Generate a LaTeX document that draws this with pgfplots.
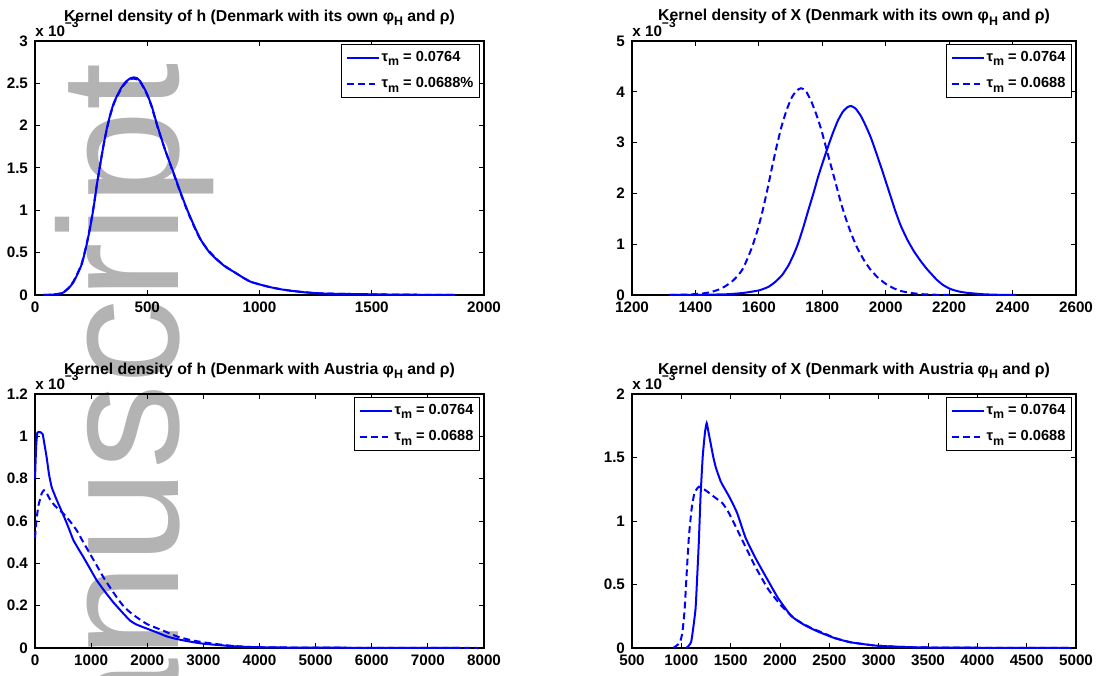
\documentclass[border=0pt]{standalone}
\usepackage{fontspec}
\setmainfont{Liberation Sans}
\usepackage{pgfplots}
\pgfplotsset{compat=1.18}
\definecolor{mblue}{RGB}{0,0,255}
\definecolor{wm}{RGB}{179,179,179}
\newcommand{\lo}[1]{\raisebox{-0.55ex}{\fontsize{6.2}{6.2}\selectfont\bfseries #1}}
\newcommand{\tfont}{\fontsize{7.9}{9}\selectfont\bfseries}
\newcommand{\kfont}{\fontsize{7.6}{9}\selectfont\bfseries}
\newcommand{\lfont}{\fontsize{7.3}{9}\selectfont\bfseries}
\newcommand{\ttau}{τ}
\pgfplotsset{
 mat/.style={
  scale only axis, height=127pt, anchor=south west, clip=false,
  axis line style={line width=0.7pt},
  every tick/.style={black, line width=0.5pt},
  major tick length=2.5pt, tick align=inside,
  tick label style={font=\kfont},
  /pgf/number format/assume math mode=true,
  /pgf/number format/1000 sep={},
  scaled ticks=false,
  legend style={draw=black, line width=0.6pt, fill=white, font=\lfont,
    at={(rel axis cs:1,1)}, anchor=north east, xshift=-2pt, yshift=-1.5pt,
    inner xsep=2.2pt, inner ysep=0pt, row sep=0pt, nodes={inner sep=0.8pt}},
  legend cell align=left,
  legend image code/.code={\draw[##1] (0pt,0pt) -- (16pt,0pt); \path[draw=none] (0pt,-6.6pt) -- (0pt,6.6pt);},
 },
 s/.style={mblue, line width=1pt, smooth, tension=0.3},
 d/.style={mblue, line width=1pt, smooth, tension=0.3, dash pattern=on 3.4pt off 2pt},
}
\newcommand{\deco}[1]{%
  \node[anchor=base west, font=\kfont, inner sep=0pt, yshift=2.25pt] at (rel axis cs:0,1) {x 10\raisebox{4.5pt}{\fontsize{6}{6}\selectfont\bfseries −3}};
  \node[anchor=base, font=\tfont, inner sep=0pt, yshift=10pt] at (rel axis cs:0.5,1) {#1};}
\begin{document}
\begin{tikzpicture}
\path[use as bounding box] (0,0) rectangle (548.5pt,337.5pt);
\begin{scope}
\clip (0,0) rectangle (548.5pt,337.5pt);
\node[rotate=90, anchor=base east, inner sep=0pt, text=wm, font=\fontsize{85}{85}\selectfont] at (89pt,306pt) {manuscript};
\end{scope}

% Top-left
\begin{axis}[mat, at={(17.5pt,190pt)}, width=224.5pt,
  xmin=0, xmax=2000, xtick={0,500,1000,1500,2000},
  ymin=0, ymax=3, ytick={0,0.5,1,1.5,2,2.5,3}]
\addplot[s] coordinates {(37,0) (80,0.005) (110,0.015) (127,0.03) (150,0.08) (171,0.15) (190,0.25) (209,0.37) (228,0.57) (246,0.80) (262,1.05) (276,1.31) (291,1.55) (306,1.78) (321,1.98) (336,2.14) (350,2.26) (365,2.35) (385,2.45) (405,2.52) (425,2.56) (440,2.57) (455,2.56) (470,2.52) (485,2.45) (500,2.37) (520,2.23) (545,2.00) (580,1.71) (619,1.43) (650,1.20) (679,1.00) (710,0.81) (739,0.65) (775,0.51) (813,0.41) (850,0.33) (888,0.27) (930,0.20) (962,0.155) (1007,0.12) (1052,0.09) (1100,0.065) (1141,0.05) (1200,0.032) (1261,0.02) (1320,0.015) (1400,0.012) (1480,0.009) (1560,0.006) (1650,0.004) (1750,0.002) (1871,0.001)};
\addlegendentry{\ttau\lo{m} = 0.0764}
\addplot[d] coordinates {(37,0) (80,0.005) (110,0.016) (127,0.032) (150,0.085) (171,0.16) (190,0.26) (209,0.38) (228,0.58) (246,0.81) (262,1.06) (276,1.31) (291,1.55) (306,1.78) (321,1.97) (336,2.13) (350,2.25) (365,2.34) (385,2.44) (405,2.51) (425,2.55) (440,2.555) (455,2.545) (470,2.51) (485,2.44) (500,2.36) (520,2.22) (545,1.99) (580,1.71) (619,1.42) (650,1.19) (679,0.99) (710,0.80) (739,0.645) (775,0.52) (813,0.415) (850,0.335) (888,0.27) (930,0.20) (962,0.155) (1007,0.12) (1052,0.09) (1100,0.066) (1141,0.05) (1200,0.033) (1261,0.021) (1320,0.016) (1400,0.012) (1480,0.009) (1560,0.006) (1650,0.004) (1750,0.002) (1871,0.001)};
\addlegendentry{\ttau\lo{m} = 0.0688\%}
\deco{Kernel density of h (Denmark with its own φ\lo{H} and ρ)}
\end{axis}

% Top-right
\begin{axis}[mat, at={(316pt,190pt)}, width=222pt,
  xmin=1200, xmax=2600, xtick={1200,1400,1600,1800,2000,2200,2400,2600},
  ymin=0, ymax=5, ytick={0,1,2,3,4,5}]
\addplot[s] coordinates {(1319,0) (1400,0.002) (1500,0.015) (1550,0.04) (1600,0.09) (1630,0.16) (1652,0.26) (1673,0.39) (1693,0.58) (1710,0.80) (1724,1.02) (1740,1.33) (1756,1.67) (1772,2.00) (1787,2.33) (1803,2.64) (1818,2.92) (1834,3.20) (1849,3.43) (1865,3.61) (1880,3.70) (1891,3.72) (1905,3.67) (1922,3.52) (1937,3.33) (1953,3.10) (1970,2.80) (1989,2.45) (2003,2.18) (2015,1.95) (2030,1.66) (2047,1.37) (2068,1.09) (2088,0.87) (2110,0.67) (2130,0.51) (2146,0.40) (2161,0.30) (2180,0.20) (2203,0.12) (2230,0.07) (2254,0.045) (2306,0.015) (2350,0.005) (2410,0)};
\addlegendentry{\ttau\lo{m} = 0.0764}
\addplot[d] coordinates {(1319,0) (1380,0.01) (1423,0.03) (1450,0.06) (1475,0.11) (1496,0.18) (1516,0.27) (1532,0.37) (1548,0.50) (1563,0.70) (1579,0.95) (1595,1.26) (1610,1.61) (1626,2.05) (1641,2.50) (1657,2.95) (1672,3.33) (1688,3.65) (1703,3.88) (1718,4.02) (1733,4.07) (1748,4.02) (1766,3.80) (1782,3.54) (1797,3.25) (1812,2.90) (1828,2.53) (1844,2.16) (1859,1.81) (1875,1.49) (1891,1.21) (1910,0.93) (1932,0.68) (1952,0.50) (1974,0.35) (2000,0.22) (2026,0.13) (2050,0.075) (2078,0.042) (2110,0.018) (2150,0.006) (2200,0)};
\addlegendentry{\ttau\lo{m} = 0.0688}
\deco{Kernel density of X (Denmark with its own φ\lo{H} and ρ)}
\end{axis}

% Bottom-left
\begin{axis}[mat, at={(17.5pt,13.5pt)}, width=224.5pt,
  xmin=0, xmax=8000, xtick={0,1000,2000,3000,4000,5000,6000,7000,8000},
  ymin=0, ymax=1.2, ytick={0,0.2,0.4,0.6,0.8,1,1.2}]
\addplot[s] coordinates {(0,0.80) (20,0.95) (42,1.017) (90,1.02) (137,1.01) (170,0.96) (208,0.90) (250,0.82) (297,0.76) (340,0.73) (386,0.70) (460,0.655) (534,0.61) (610,0.56) (683,0.51) (770,0.47) (861,0.43) (980,0.375) (1099,0.32) (1250,0.265) (1395,0.216) (1550,0.17) (1692,0.13) (1800,0.112) (1930,0.098) (2050,0.086) (2167,0.074) (2346,0.055) (2500,0.044) (2702,0.033) (2950,0.022) (3177,0.016) (3500,0.009) (3771,0.005) (4200,0.003) (5000,0.0015) (6000,0.001) (7000,0.0005) (7600,0)};
\addlegendentry{\ttau\lo{m} = 0.0764}
\addplot[d] coordinates {(0,0.52) (25,0.60) (59,0.67) (119,0.73) (160,0.745) (196,0.74) (240,0.715) (297,0.69) (400,0.66) (505,0.635) (620,0.6) (742,0.556) (860,0.50) (980,0.445) (1100,0.39) (1217,0.335) (1340,0.285) (1455,0.24) (1570,0.2) (1692,0.169) (1840,0.14) (1989,0.114) (2140,0.097) (2286,0.082) (2430,0.065) (2583,0.05) (2800,0.036) (2999,0.027) (3250,0.018) (3474,0.011) (3750,0.006) (4068,0.003) (5000,0.0015) (6000,0.001) (7000,0.0005) (7900,0)};
\addlegendentry{\ttau\lo{m} = 0.0688}
\deco{Kernel density of h (Denmark with Austria φ\lo{H} and ρ)}
\end{axis}

% Bottom-right
\begin{axis}[mat, at={(316pt,13.5pt)}, width=222pt,
  xmin=500, xmax=5000, xtick={500,1000,1500,2000,2500,3000,3500,4000,4500,5000},
  ymin=0, ymax=2, ytick={0,0.5,1,1.5,2}]
\addplot[s] coordinates {(1050,0) (1100,0.05) (1143,0.30) (1160,0.55) (1177,0.83) (1195,1.20) (1217,1.51) (1240,1.70) (1257,1.77) (1275,1.70) (1300,1.60) (1325,1.50) (1350,1.42) (1400,1.31) (1450,1.24) (1500,1.17) (1567,1.06) (1650,0.87) (1750,0.71) (1883,0.525) (1983,0.39) (2117,0.25) (2250,0.18) (2383,0.13) (2550,0.079) (2717,0.045) (2983,0.018) (3383,0.005) (4000,0.002) (4500,0.001) (4950,0)};
\addlegendentry{\ttau\lo{m} = 0.0764}
\addplot[d] coordinates {(917,0) (983,0.04) (1010,0.12) (1033,0.30) (1055,0.60) (1077,0.88) (1105,1.10) (1133,1.22) (1177,1.27) (1230,1.25) (1283,1.22) (1350,1.18) (1417,1.14) (1470,1.08) (1517,1.01) (1617,0.85) (1750,0.64) (1883,0.46) (2017,0.33) (2150,0.23) (2317,0.157) (2450,0.115) (2550,0.08) (2717,0.045) (2983,0.018) (3383,0.005) (4000,0.002) (4500,0.001) (4950,0)};
\addlegendentry{\ttau\lo{m} = 0.0688}
\deco{Kernel density of X (Denmark with Austria φ\lo{H} and ρ)}
\end{axis}
\end{tikzpicture}
\end{document}
